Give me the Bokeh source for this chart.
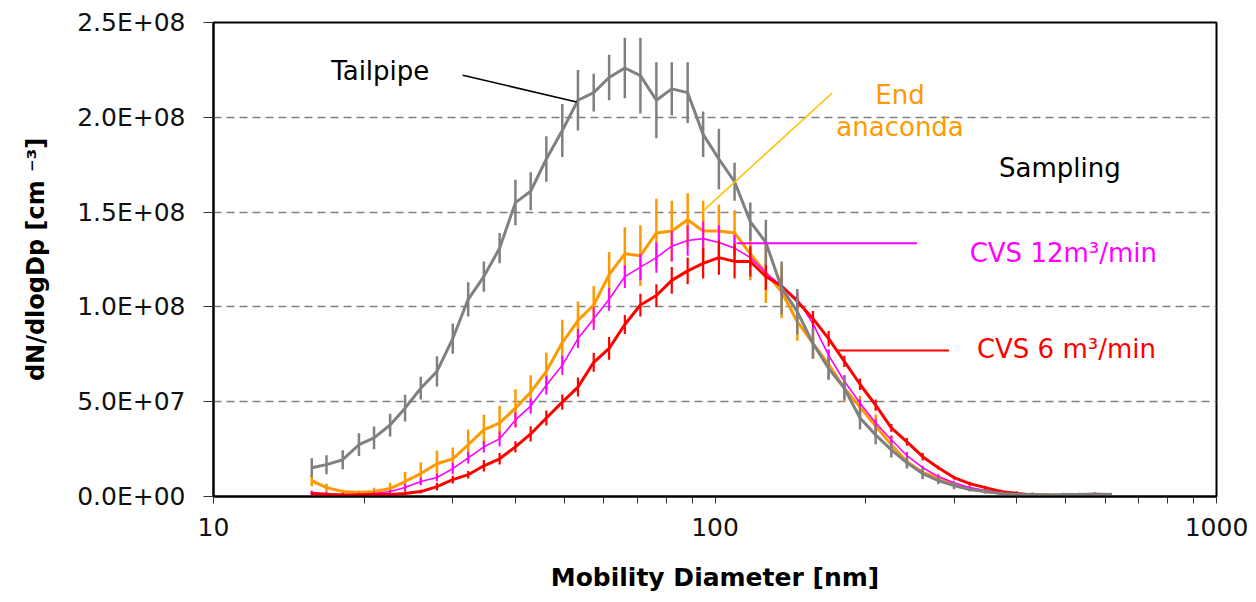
import numpy as np
from bokeh.plotting import figure
from bokeh.models import Range1d, FixedTicker, Label, ColumnDataSource
from bokeh.embed import file_html
from bokeh.resources import INLINE

# ---------------- data ----------------
diameter_nm = [15.7, 16.8, 18.1, 19.5, 20.9, 22.5, 24.1, 25.9, 27.9, 30.0, 32.2, 34.6,
               37.2, 40.0, 42.9, 46.1, 49.6, 53.3, 57.3, 61.5, 66.1, 71.0, 76.4, 82.0,
               88.2, 94.7, 101.8, 109.4, 117.6, 126.3, 135.8, 145.9, 156.8, 168.5, 181.1,
               194.6, 209.1, 224.7, 241.4, 259.5, 278.8, 299.6, 322.0, 346.0, 371.8, 399.6,
               429.4, 461.4, 495.8, 532.8, 572.5, 615.3]

# dN/dlogDp in units of 1e6 cm^-3
tailpipe = [15.2, 16.8, 19.4, 27.3, 30.9, 37.7, 46.6, 57.1, 66.0, 83.3, 104, 116, 131,
            155, 161, 178, 193, 209, 213, 221, 226, 222, 209, 215, 213, 191, 178, 166,
            145, 134, 110, 97.5, 80.7, 67.6, 57.1, 41.4, 32.5, 24.6, 17.8, 12.1, 8.4, 5.8,
            3.7, 2.6, 1.6, 1.0, 1.0, 0.8, 1.0, 1.0, 1.3, 1.0]
tailpipe_err = [5, 5, 5, 6, 6, 6, 7, 6, 8, 8, 9, 8, 8,
                12, 10, 12, 14, 16, 10, 12, 16, 20, 20, 14, 16, 12, 16, 10,
                10, 12, 14, 12, 8, 6, 6, 6, 5, 4, 3, 3, 2, 2,
                1, 1, 1, 1, 1, 1, 1, 1, 1, 1]

end_anaconda = [8.4, 4.7, 2.6, 2.1, 2.6, 4.2, 7.9, 12.1, 17.3, 19.9, 27.3, 35.1, 38.8,
                46.6, 55.0, 66.0, 81.2, 92.8, 101, 117, 128, 127, 139, 140, 146, 140, 140,
                139, 128, 118, 108, 92.2, 80.7, 69.7, 57.1, 47.2, 37.2, 27.3, 18.3, 12.6,
                10.0, 6.3, 4.2, 2.6, 1.8, 1.3, 1.0, 0.8, 0.5, 0.5, 0.3, 0.2]
end_anaconda_err = [3, 2, 1, 1, 2, 3, 5, 6, 7, 6, 8, 8, 9,
                    10, 9, 10, 12, 10, 10, 12, 14, 16, 18, 16, 14, 16, 14, 12,
                    14, 16, 14, 10, 8, 8, 7, 6, 6, 5, 3, 2, 2, 1,
                    1, 1, 1, 1, 1, 1, 1, 1, 1, 1]

cvs12 = [2.1, 1.6, 1.0, 1.0, 1.6, 2.6, 4.7, 7.9, 10.0, 14.7, 20.4, 26.2, 30.4,
         40.4, 47.7, 58.7, 69.2, 83.3, 93.8, 104, 116, 121, 126, 132, 135, 136, 134, 131,
         126, 118, 111, 104, 91.2, 74.4, 60.8, 49.3, 38.8, 29.9, 21.5, 15.2, 10.5, 7.3,
         4.7, 3.1, 2.1, 1.6, 1.0, 0.8, 0.5, 0.5, 0.3, 0.2]
cvs12_err = [1, 1, 1, 1, 1, 1, 2, 2, 2, 3, 3, 3, 4,
             4, 4, 5, 5, 5, 6, 6, 6, 7, 8, 8, 8, 9, 9, 7,
             5, 4, 4, 4, 3, 3, 3, 2, 2, 2, 2, 1, 1, 1,
             1, 1, 1, 1, 1, 1, 1, 1, 1, 1]

cvs6 = [1.5, 1.0, 0.8, 0.8, 1.0, 1.0, 1.6, 2.6, 5.2, 8.9, 11.5, 16.2, 19.9,
        26.2, 33.0, 41.4, 49.8, 57.7, 70.8, 78.1, 90.7, 101, 106, 114, 119, 123, 126, 124,
        124, 116, 111, 103, 93.8, 83.3, 71.3, 59.2, 48.2, 36.2, 28.8, 21.0, 15.2, 10.0,
        6.8, 4.7, 2.6, 1.6, 0.8, 0.5, 0.3, 0.2, 0.2, 0.1]
cvs6_err = [1, 1, 1, 1, 1, 1, 1, 1, 2, 2, 2, 3, 3,
            3, 4, 4, 4, 5, 5, 6, 5, 6, 6, 7, 7, 8, 9, 9,
            8, 7, 5, 4, 4, 4, 3, 3, 3, 2, 2, 2, 1, 1,
            1, 1, 1, 1, 1, 1, 1, 1, 1, 1]

y_ticks = [0, 5e7, 1e8, 1.5e8, 2e8, 2.5e8]
y_tick_labels = ["0.0E+00", "5.0E+07", "1.0E+08", "1.5E+08", "2.0E+08", "2.5E+08"]
x_ticks = [10, 100, 1000]
x_tick_labels = ["10", "100", "1000"]
x_minor_ticks = [20, 30, 40, 50, 60, 70, 80, 90, 200, 300, 400, 500, 600, 700, 800, 900]

# ---------------- figure ----------------
FONT = "DejaVu Sans"
p = figure(width=1248, height=594, x_axis_type="log",
           x_range=Range1d(10, 1000), y_range=Range1d(0, 2.5e8),
           output_backend="svg", toolbar_location=None,
           min_border_left=213, min_border_right=32, min_border_top=22, min_border_bottom=96)
p.background_fill_color = "white"
p.border_fill_color = "white"
p.outline_line_color = "black"
p.outline_line_width = 2
p.outline_line_alpha = 1.0

p.xgrid.visible = False
p.ygrid.grid_line_color = "#808080"
p.ygrid.grid_line_dash = "8 5"
p.ygrid.grid_line_width = 1.5

p.yaxis.ticker = FixedTicker(ticks=y_ticks)
p.yaxis.major_label_overrides = {float(v): s for v, s in zip(y_ticks, y_tick_labels)}
p.xaxis.ticker = FixedTicker(ticks=x_ticks, minor_ticks=x_minor_ticks)
p.xaxis.major_label_overrides = {float(v): s for v, s in zip(x_ticks, x_tick_labels)}

for ax in (p.xaxis, p.yaxis):
    ax.axis_line_color = "black"
    ax.axis_line_width = 2
    ax.major_tick_line_color = "#333333"
    ax.minor_tick_line_color = "#333333"
    ax.major_tick_line_width = 1
    ax.minor_tick_line_width = 1
    ax.major_tick_in = 0
    ax.minor_tick_in = 0
    ax.major_label_text_font = FONT
    ax.major_label_text_font_size = "25px"
    ax.major_label_text_color = "#111111"
    ax.axis_label_text_font = FONT
    ax.axis_label_text_font_style = "bold"
    ax.axis_label_text_font_size = "25px"
    ax.axis_label_text_color = "#000000"

p.yaxis.major_tick_out = 10
p.yaxis.minor_tick_out = 0
p.yaxis.major_label_standoff = 18
p.yaxis.axis_label = "dN/dlogDp [cm \u207b\u00b3]"
p.yaxis.axis_label_text_font_size = "24px"
p.yaxis.axis_label_standoff = 24

p.xaxis.major_tick_out = 7
p.xaxis.minor_tick_out = 7
p.xaxis.major_label_standoff = 14
p.xaxis.axis_label = "Mobility Diameter [nm]"
p.xaxis.axis_label_standoff = 24

# ---------------- series ----------------
d = np.array(diameter_nm)
series = [
    (end_anaconda, end_anaconda_err, "#FF9900", 3, 2.5),
    (cvs12, cvs12_err, "#FF00FF", 1.6, 2),
    (cvs6, cvs6_err, "#FF0000", 3, 2.2),
    (tailpipe, tailpipe_err, "#808080", 3, 2.5),
]
for vals, errs, color, lw, ew in series:
    y = np.array(vals) * 1e6
    e = np.array(errs) * 1e6
    src = ColumnDataSource(dict(x=d, y=y, lo=np.clip(y - e, 0, None), hi=y + e))
    p.segment(x0="x", y0="lo", x1="x", y1="hi", source=src, line_color=color, line_width=ew)
    p.line("x", "y", source=src, line_color=color, line_width=lw)

# ---------------- annotations ----------------
# leader lines (data coordinates)
p.line([31.4, 53.0], [2.222e8, 2.081e8], line_color="black", line_width=1.6)
p.line([94.0, 171.3], [1.499e8, 2.128e8], line_color="#FFC000", line_width=1.6)
p.line([110.4, 252.9], [1.336e8, 1.336e8], line_color="#FF00FF", line_width=2)
p.line([174.5, 292.9], [7.70e7, 7.70e7], line_color="#FF0000", line_width=2)

labels = [
    ("Tailpipe", 21.5, 2.243e8, "#000000"),
    ("End", 233.9, 2.117e8, "#FF9900"),
    ("anaconda", 233.9, 1.950e8, "#FF9900"),
    ("Sampling", 487.0, 1.730e8, "#000000"),
    ("CVS 12m\u00b3/min", 495.0, 1.284e8, "#FF00FF"),
    ("CVS 6 m\u00b3/min", 502.0, 7.76e7, "#FF0000"),
]
for txt, x, y, c in labels:
    p.add_layout(Label(x=x, y=y, text=txt, text_color=c, text_font=FONT,
                       text_font_size="26px", text_align="center", text_baseline="middle"))

open("out.html", "w").write(file_html(p, INLINE))
